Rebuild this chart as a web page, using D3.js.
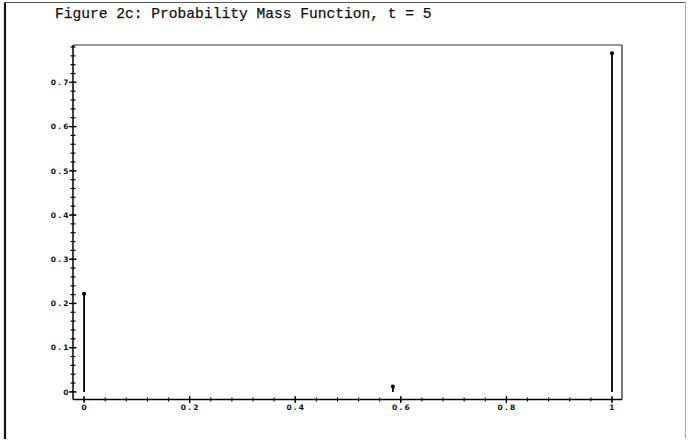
<!DOCTYPE html>
<html>
<head>
<meta charset="utf-8">
<script src="https://cdn.jsdelivr.net/npm/d3@7"></script>
<style>
  html, body { margin: 0; padding: 0; background: #fff; }
  svg { display: block; }
</style>
</head>
<body>
<svg id="chart" width="688" height="440"></svg>
<script>
// ---- data ----
const titleText = "Figure 2c: Probability Mass Function, t = 5";
const outcomes = [0, 0.585, 1];
const probabilities = [0.222, 0.012, 0.766];
const xTickValues = [0, 0.2, 0.4, 0.6, 0.8, 1];
const xTickLabels = ["0", "0.2", "0.4", "0.6", "0.8", "1"];
const yTickValues = [0, 0.1, 0.2, 0.3, 0.4, 0.5, 0.6, 0.7];
const yTickLabels = ["0", "0.1", "0.2", "0.3", "0.4", "0.5", "0.6", "0.7"];
const xMinorStep = 0.04;
const yMinorStep = 0.02;

(function () {
const svg = d3.select("#chart");

// outer page frame
svg.append("line").attr("x1", 5).attr("y1", 2).attr("x2", 5).attr("y2", 439)
  .attr("stroke", "#111").attr("stroke-width", 2.2);
svg.append("line").attr("x1", 4).attr("y1", 2.5).attr("x2", 686).attr("y2", 2.5)
  .attr("stroke", "#555").attr("stroke-width", 1);
svg.append("line").attr("x1", 685.5).attr("y1", 2).attr("x2", 685.5).attr("y2", 439)
  .attr("stroke", "#aaa").attr("stroke-width", 1);

// title
svg.append("text")
  .attr("x", 55).attr("y", 17.5)
  .attr("font-family", "'Liberation Mono', 'Courier New', monospace")
  .attr("font-size", 14.6)
  .attr("fill", "#111")
  .attr("stroke", "#111")
  .attr("stroke-width", 0.25)
  .text(titleText);

// scales
const x = d3.scaleLinear().domain([-0.021, 1.019]).range([73, 622]);
const y = d3.scaleLinear().domain([-0.0172, 0.7845]).range([399.5, 45]);

const pLeft = x.range()[0], pRight = x.range()[1];
const pBottom = y.range()[0], pTop = y.range()[1];

// frame
svg.append("line").attr("x1", pLeft).attr("y1", pTop).attr("x2", pRight).attr("y2", pTop)
  .attr("stroke", "#333").attr("stroke-width", 1);
svg.append("line").attr("x1", pRight).attr("y1", pTop).attr("x2", pRight).attr("y2", pBottom)
  .attr("stroke", "#222").attr("stroke-width", 1.2);
svg.append("line").attr("x1", pLeft).attr("y1", pTop).attr("x2", pLeft).attr("y2", pBottom)
  .attr("stroke", "#000").attr("stroke-width", 1.5);
svg.append("line").attr("x1", pLeft).attr("y1", pBottom).attr("x2", pRight).attr("y2", pBottom)
  .attr("stroke", "#000").attr("stroke-width", 1.5);

// minor ticks
const yMinor = d3.range(0, y.domain()[1] + 1e-9, yMinorStep);
svg.append("g").selectAll("line").data(yMinor).join("line")
  .attr("x1", pLeft - 2.5).attr("x2", pLeft + 2.5)
  .attr("y1", d => y(d)).attr("y2", d => y(d))
  .attr("stroke", "#000").attr("stroke-width", 1.2);
const xMinor = d3.range(0, 1 + 1e-9, xMinorStep);
svg.append("g").selectAll("line").data(xMinor).join("line")
  .attr("x1", d => x(d)).attr("x2", d => x(d))
  .attr("y1", pBottom - 2).attr("y2", pBottom + 2)
  .attr("stroke", "#000").attr("stroke-width", 1.1);

// major ticks
svg.append("g").selectAll("line").data(yTickValues).join("line")
  .attr("x1", pLeft - 4).attr("x2", pLeft + 3.5)
  .attr("y1", d => y(d)).attr("y2", d => y(d))
  .attr("stroke", "#000").attr("stroke-width", 1.3);
svg.append("g").selectAll("line").data(xTickValues).join("line")
  .attr("x1", d => x(d)).attr("x2", d => x(d))
  .attr("y1", pBottom - 3.5).attr("y2", pBottom + 3.5)
  .attr("stroke", "#000").attr("stroke-width", 1.3);

// tick labels
const labelFont = "'DejaVu Sans', sans-serif";
svg.append("g").selectAll("text").data(yTickValues).join("text")
  .attr("x", pLeft - 4.5 + 2.2)
  .attr("y", d => y(d) + 2.8)
  .attr("text-anchor", "end")
  .attr("font-family", labelFont)
  .attr("font-weight", "bold")
  .attr("font-size", 7.5)
  .attr("letter-spacing", 2.2)
  .attr("fill", "#111")
  .text((d, i) => yTickLabels[i]);
svg.append("g").selectAll("text").data(xTickValues).join("text")
  .attr("x", d => x(d) + 1.1)
  .attr("y", pBottom + 10.5)
  .attr("text-anchor", "middle")
  .attr("font-family", labelFont)
  .attr("font-weight", "bold")
  .attr("font-size", 7.5)
  .attr("letter-spacing", 2.2)
  .attr("fill", "#111")
  .text((d, i) => xTickLabels[i]);

// stems
const pts = outcomes.map((o, i) => ({ o, p: probabilities[i] }));
svg.append("g").selectAll("line").data(pts).join("line")
  .attr("x1", d => x(d.o)).attr("x2", d => x(d.o))
  .attr("y1", y(0)).attr("y2", d => y(d.p))
  .attr("stroke", "#000").attr("stroke-width", 1.8);
svg.append("g").selectAll("circle").data(pts).join("circle")
  .attr("cx", d => x(d.o)).attr("cy", d => y(d.p))
  .attr("r", 2)
  .attr("fill", "#000");
})();
</script>
</body>
</html>
